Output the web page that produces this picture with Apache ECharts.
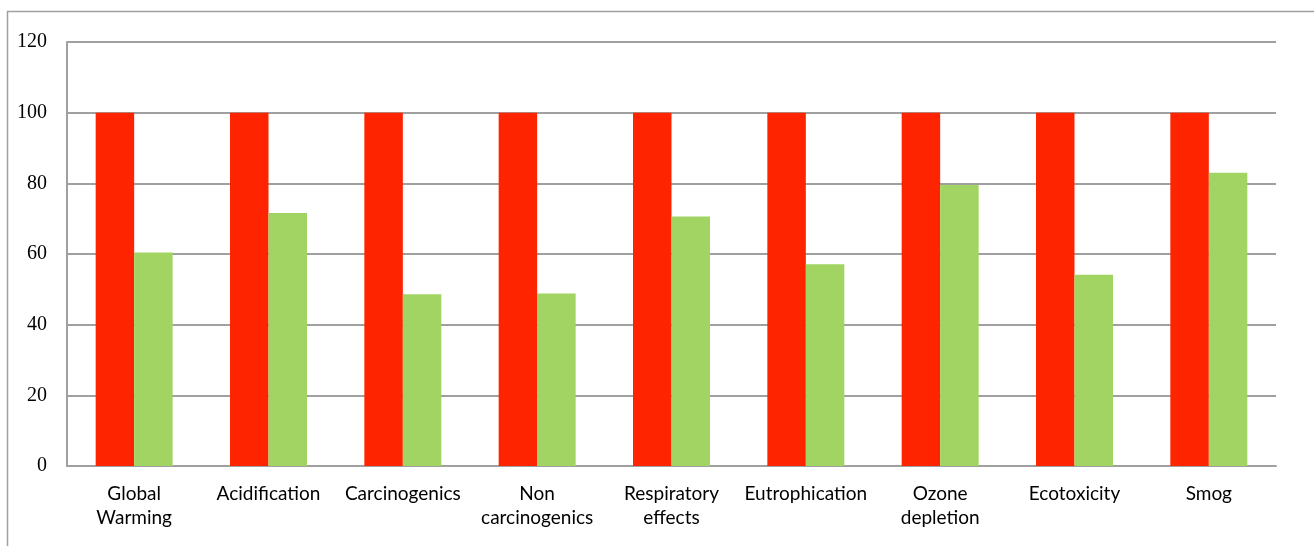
<!DOCTYPE html>
<html><head><meta charset="utf-8">
<script src="https://cdn.jsdelivr.net/npm/echarts@6/dist/echarts.min.js"></script>
<style>html,body{margin:0;padding:0;background:#fff}#c{width:1314px;height:546px}</style>
</head><body><div id="c"></div>
<script>
const categories = ['Global\nWarming','Acidification','Carcinogenics','Non\ncarcinogenics','Respiratory\neffects','Eutrophication','Ozone\ndepletion','Ecotoxicity','Smog'];
const seriesA = [100,100,100,100,100,100,100,100,100];
const seriesB = [60.4,71.6,48.6,48.8,70.6,57.1,79.5,54.1,83.0];
const yTicks = {min:0,max:120,interval:20};

const chart = echarts.init(document.getElementById('c'), null, {renderer:'canvas'});
chart.setOption({
  animation:false,
  backgroundColor:'#fff',
  graphic:[{type:'rect',shape:{x:7.5,y:11.5,width:1310,height:600},style:{fill:'none',stroke:'#a0a0a0',lineWidth:1.5},silent:true}],
  grid:{left:67,right:38,top:42,bottom:80},
  xAxis:{type:'category',data:categories,
    axisLine:{lineStyle:{color:'#a0a0a0',width:2}},axisTick:{show:false},
    axisLabel:{color:'#000',fontFamily:'Lato',fontSize:19,lineHeight:24,margin:16,interval:0}},
  yAxis:{type:'value',min:yTicks.min,max:yTicks.max,interval:yTicks.interval,
    axisLine:{show:true,lineStyle:{color:'#a0a0a0',width:2}},axisTick:{show:false},
    splitLine:{lineStyle:{color:'#a0a0a0',width:2}},
    axisLabel:{color:'#000',fontFamily:'Liberation Serif',fontSize:20,margin:20}},
  series:[
    {type:'bar',data:seriesA,itemStyle:{color:'#ff2400'},barWidth:38.5,barGap:'0%'},
    {type:'bar',data:seriesB,itemStyle:{color:'#a2d463'},barWidth:38.5,barGap:'0%'}
  ]
});
</script></body></html>
